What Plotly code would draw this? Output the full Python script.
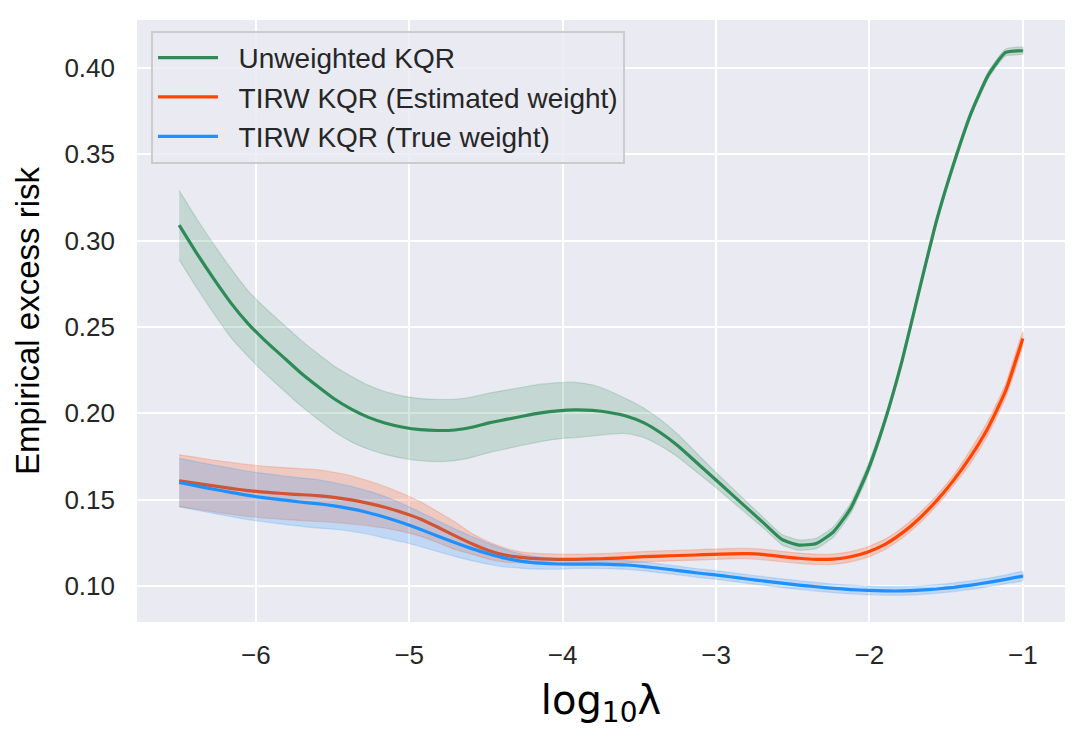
import numpy as np
import plotly.graph_objects as go

# -- data ------------------------------------------------------------------ #
log_lambda = np.linspace(-6.5, -1.0, 50)

unweighted_mean = [0.309, 0.293, 0.278, 0.264, 0.252, 0.242, 0.233, 0.224, 0.216, 0.2085,
                   0.2025, 0.1977, 0.1943, 0.1920, 0.1906, 0.1901, 0.1904, 0.192, 0.1945, 0.1965,
                   0.1985, 0.2003, 0.2015, 0.202, 0.2017, 0.2005, 0.1983, 0.1945, 0.1885, 0.181,
                   0.172, 0.163, 0.154, 0.145, 0.136, 0.127, 0.1237, 0.1247, 0.1314, 0.145,
                   0.167, 0.196, 0.231, 0.272, 0.312, 0.345, 0.374, 0.396, 0.409, 0.410]
unweighted_std = [0.020, 0.020, 0.020, 0.020, 0.019, 0.019, 0.019, 0.019, 0.019, 0.019,
                  0.019, 0.0185, 0.0182, 0.018, 0.018, 0.018, 0.0178, 0.0175, 0.0172, 0.017,
                  0.0168, 0.0166, 0.0163, 0.016, 0.0148, 0.0125, 0.010, 0.0085, 0.0075, 0.0065,
                  0.0055, 0.0045, 0.004, 0.0035, 0.003, 0.003, 0.003, 0.003, 0.003, 0.003,
                  0.003, 0.002, 0.002, 0.002, 0.002, 0.002, 0.002, 0.002, 0.002, 0.002]

estimated_mean = [0.161, 0.1595, 0.158, 0.1566, 0.1553, 0.1544, 0.1536, 0.1530, 0.1524, 0.1514,
                  0.1499, 0.1479, 0.1455, 0.1425, 0.1389, 0.1342, 0.1292, 0.1245, 0.1205, 0.1178,
                  0.1165, 0.1158, 0.1155, 0.1155, 0.1157, 0.116, 0.1165, 0.117, 0.1174, 0.1177,
                  0.118, 0.1184, 0.1187, 0.1188, 0.1182, 0.1171, 0.1161, 0.1155, 0.1156, 0.117,
                  0.1198, 0.1242, 0.1308, 0.1393, 0.1495, 0.1615, 0.1755, 0.1920, 0.2130, 0.2434]
estimated_std = [0.015, 0.015, 0.015, 0.015, 0.015, 0.015, 0.015, 0.015, 0.015, 0.0145,
                 0.014, 0.013, 0.012, 0.011, 0.010, 0.009, 0.008, 0.006, 0.005, 0.004,
                 0.003, 0.003, 0.003, 0.003, 0.003, 0.003, 0.003, 0.003, 0.003, 0.003,
                 0.003, 0.003, 0.003, 0.003, 0.003, 0.003, 0.003, 0.003, 0.003, 0.003,
                 0.003, 0.003, 0.003, 0.003, 0.003, 0.003, 0.004, 0.004, 0.004, 0.004]

true_mean = [0.160, 0.158, 0.1561, 0.1543, 0.1525, 0.1511, 0.1499, 0.1487, 0.1477, 0.1464,
             0.1447, 0.1425, 0.1397, 0.1365, 0.1329, 0.1290, 0.1252, 0.1217, 0.1186, 0.1160,
             0.1142, 0.1133, 0.1128, 0.1127, 0.1127, 0.1126, 0.1122, 0.1113, 0.1102, 0.1090,
             0.1077, 0.1066, 0.1054, 0.1041, 0.1029, 0.1017, 0.1006, 0.0996, 0.0987, 0.0980,
             0.0975, 0.0972, 0.0972, 0.0976, 0.0983, 0.0993, 0.1006, 0.1021, 0.1039, 0.1058]
true_std = [0.014, 0.014, 0.014, 0.014, 0.014, 0.014, 0.014, 0.014, 0.014, 0.0135,
            0.013, 0.0125, 0.012, 0.011, 0.010, 0.009, 0.008, 0.007, 0.006, 0.005,
            0.004, 0.0035, 0.003, 0.0025, 0.0025, 0.0025, 0.0025, 0.0025, 0.0025, 0.0025,
            0.0025, 0.0025, 0.0025, 0.0025, 0.0025, 0.0025, 0.0025, 0.0025, 0.0025, 0.0025,
            0.0025, 0.0025, 0.0025, 0.0025, 0.0025, 0.0025, 0.0025, 0.0025, 0.0025, 0.0025]

series = [("Unweighted KQR", unweighted_mean, unweighted_std, (46, 139, 87)),
          ("TIRW KQR (Estimated weight)", estimated_mean, estimated_std, (255, 69, 0)),
          ("TIRW KQR (True weight)", true_mean, true_std, (30, 144, 255))]

y_ticks = [0.10, 0.15, 0.20, 0.25, 0.30, 0.35, 0.40]
x_ticks = [-6, -5, -4, -3, -2, -1]

TEXT = "#262626"
FONT = "Liberation Sans, Arial, sans-serif"
GAP = "\u00a0\u00a0"  # a little room between legend line and label


def rgba(c, a):
    return "rgba(%d,%d,%d,%s)" % (c[0], c[1], c[2], a)


fig = go.Figure()
for i, (name, mean, std, col) in enumerate(series):
    mean = np.array(mean)
    std = np.array(std)
    # shaded band (mean +- std), like fill_between with alpha 0.2
    fig.add_trace(go.Scatter(
        x=np.concatenate([log_lambda, log_lambda[::-1]]),
        y=np.concatenate([mean + std, (mean - std)[::-1]]),
        fill="toself", fillcolor=rgba(col, 0.2),
        line=dict(color=rgba(col, 0.2), width=1.2, shape="spline", smoothing=0.5),
        mode="lines", hoverinfo="skip", showlegend=False, legendgroup="g%d" % i))
    fig.add_trace(go.Scatter(x=log_lambda, y=mean, mode="lines", name=GAP + name,
                             line=dict(color=rgba(col, 1), width=3.2,
                                       shape="spline", smoothing=0.5),
                             legendgroup="g%d" % i))

# the page body has an 8px margin, so the figure is made 8px smaller each way
fig.update_layout(
    width=1077, height=736,
    margin=dict(l=129, r=20, t=12, b=122),
    paper_bgcolor="white", plot_bgcolor="#EAEAF2",
    font=dict(family=FONT, size=26, color=TEXT),
    legend=dict(x=0.0151, y=0.982, xanchor="left", yanchor="top",
                bgcolor="rgba(234,234,242,0.8)", bordercolor="#CCCCCC", borderwidth=2,
                font=dict(family=FONT, size=28, color=TEXT),
                traceorder="grouped", tracegroupgap=0, itemwidth=60),
)
fig.update_xaxes(range=[-6.775, -0.725], tickvals=x_ticks, showgrid=True,
                 gridcolor="white", gridwidth=1.7, zeroline=False, showline=False,
                 ticks="", ticklabelstandoff=15, automargin=False,
                 title=dict(text="log<sub>10</sub>λ", standoff=16,
                            font=dict(family="DejaVu Sans", size=40, color="black")))
fig.update_yaxes(range=[0.0792, 0.4278], tickvals=y_ticks, tickformat=".2f",
                 showgrid=True, gridcolor="white", gridwidth=1.7, zeroline=False,
                 showline=False, ticks="", ticklabelstandoff=21, automargin=False,
                 title=dict(text="Empirical excess risk", standoff=14,
                            font=dict(family=FONT, size=33, color="black")))

fig.write_html("out.html")
